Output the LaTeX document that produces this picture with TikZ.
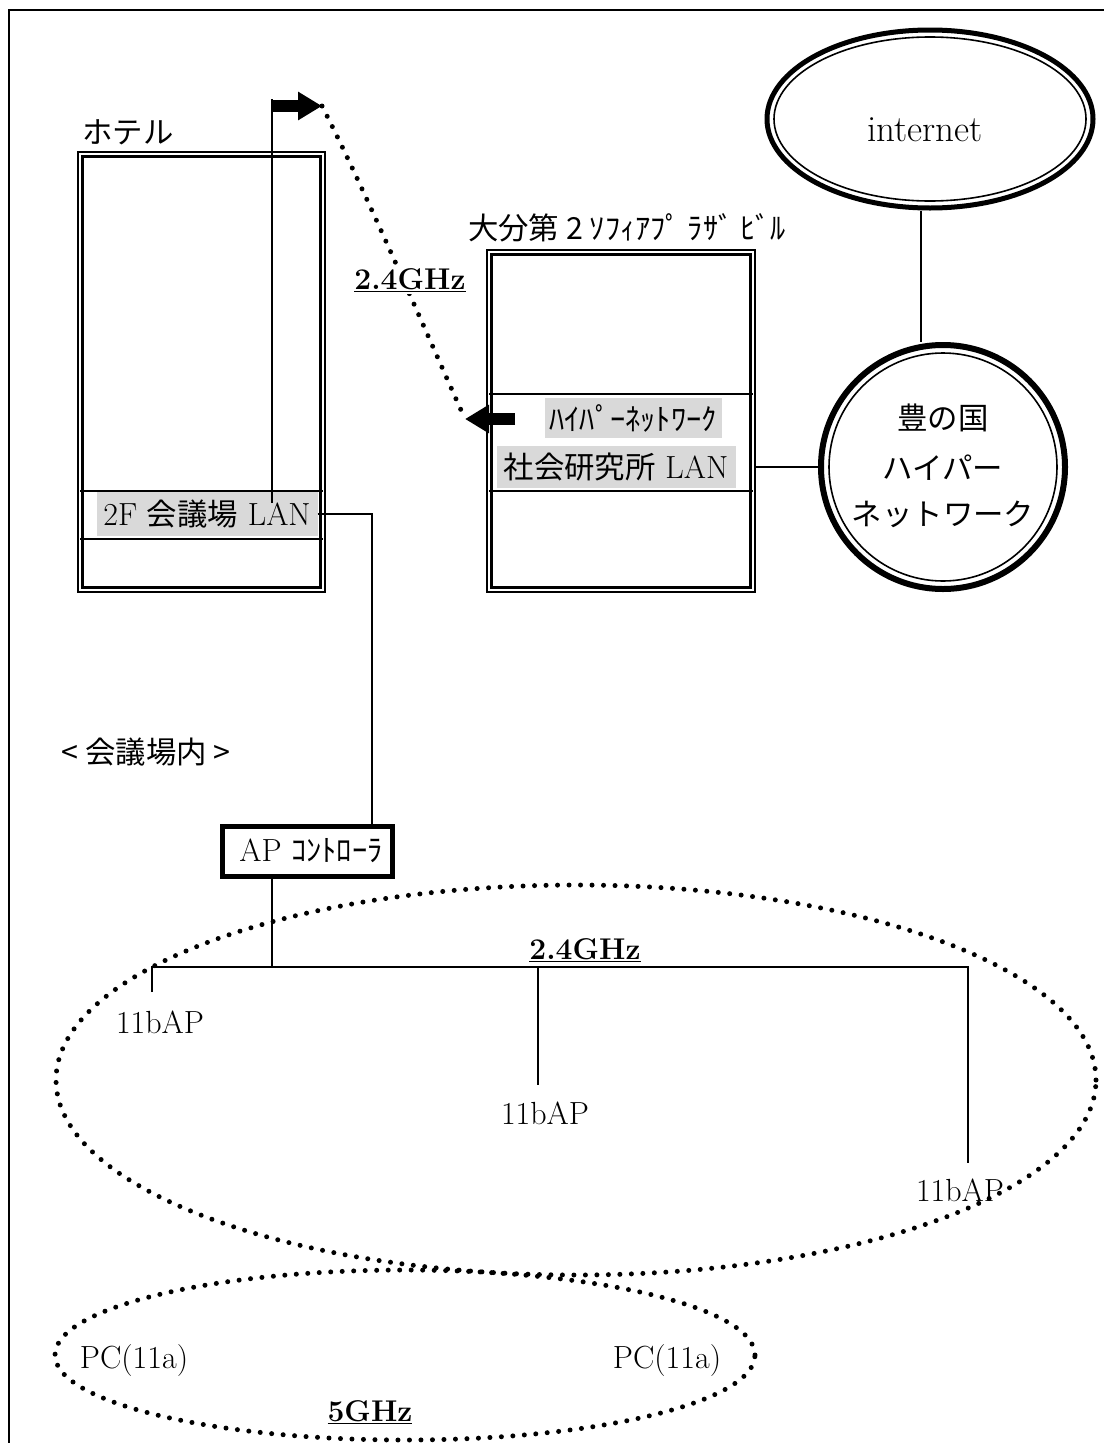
\documentclass[tikz,border=0pt]{standalone}
\usepackage{fontspec}
\newfontfamily\jp[Scale=0.95]{Noto Sans CJK JP}
\usetikzlibrary{arrows.meta,calc,shapes.geometric}
\begin{document}
\begin{tikzpicture}[x=1pt,y=-1pt,
  thinln/.style={line width=1.6pt},
  txt/.style={font=\fontsize{32}{38}\selectfont, inner sep=0pt},
  lbl/.style={font=\fontsize{30}{36}\selectfont\bfseries, inner sep=0pt},
  graybox/.style={fill=black!15, inner sep=0pt, font=\fontsize{32}{38}\selectfont},
  dotline/.style={line width=5pt, line cap=round, dash pattern=on 0pt off 11.5pt},
  blockarrow/.style={line width=12pt, -{Triangle[length=24pt,width=27pt]}},
  bldg/.style={draw, thinln, inner sep=0pt}
]
\useasboundingbox (0,0) rectangle (1104,1443);
\fill[white] (0,0) rectangle (1104,1443);
% frame
\draw[line width=2pt] (9,1443) -- (9,10) -- (1104,10);

% ---------- hotel ----------
\node[txt] (hoteltxt) at (128,132) {\jp ホテル};
\node[bldg, minimum width=247pt, minimum height=440pt] (hotel) at (201.5,372) {};
\draw[line width=3.5pt] ($(hotel.north west)+(5.5,5.5)$) rectangle ($(hotel.south east)+(-5.5,-5.5)$);
\draw[thinln] (80,491) -- (323,491);
\draw[thinln] (80,539) -- (323,539);
\node[graybox, minimum width=221pt, minimum height=44pt] (lan1) at (207,514) {2F {\jp 会議場} LAN};

% vertical line and arrow
\coordinate (vtop) at (272,99);
\coordinate (vbot) at (272,503);
\draw[thinln] (vtop) -- (vbot);
\coordinate (a1s) at (272,106);
\coordinate (a1e) at (322,106);
\draw[blockarrow] (a1s) -- (a1e);

% ---------- second building ----------
\node[txt] (bldgtxt) at (627,228) {\jp 大分第 2 ｿﾌｨｱﾌﾟ ﾗｻﾞ ﾋﾞﾙ};
\node[bldg, minimum width=268pt, minimum height=342pt] (bldg2) at (621,421) {};
\draw[line width=3.5pt] ($(bldg2.north west)+(5.5,5.5)$) rectangle ($(bldg2.south east)+(-5.5,-5.5)$);
\draw[thinln] (489,394) -- (753,394);
\draw[thinln] (489,491) -- (753,491);
\node[graybox, minimum width=177pt, minimum height=40pt] (hyper) at (633,418) {\jp ﾊｲﾊﾟｰﾈｯﾄﾜｰｸ};
\node[graybox, minimum width=239pt, minimum height=42pt] (lan2) at (616,467) {{\jp 社会研究所} LAN};

\coordinate (a2s) at (515,419);
\coordinate (a2e) at (465,419);
\draw[blockarrow] (a2s) -- (a2e);

% wireless link
\draw[dotline] (a1e) .. controls (365,190) and (425,330) .. (a2e);
\node[lbl, fill=white, inner sep=2pt] (wl) at (410,280) {\underline{2.4GHz}};

% ---------- internet / hyper network ----------
\node[ellipse, draw, line width=5pt, minimum width=326pt, minimum height=178pt, inner sep=0pt] (inet) at (930,119) {};
\draw[thinln] (inet.center) ellipse [x radius=156pt, y radius=82pt];
\node[txt, font=\fontsize{37}{42}\selectfont] (inettxt) at (925,130) {internet};

\node[circle, draw, line width=6pt, minimum size=244pt, inner sep=0pt] (circ) at (943,467) {};
\draw[thinln] (circ.center) circle [radius=114pt];
\node[txt] (c1) at (943,418) {\jp 豊の国};
\node[txt] (c2) at (943,468) {\jp ハイパー};
\node[txt] (c3) at (943,514) {\jp ネットワーク};

\coordinate (cx) at (921,0);
\draw[thinln] (inet.south -| cx) -- (circ.north -| cx);
\draw[thinln] (lan2.east -| bldg2.east) -- (circ.west);

% ---------- conference room ----------
\node[txt] (room) at (146,752) {\jp < 会議場内 >};
\node[draw, line width=5pt, minimum width=170pt, minimum height=50pt, inner sep=0pt, font=\fontsize{32}{38}\selectfont] (ap) at (307,851) {\hspace*{8pt}AP {\jp ｺﾝﾄﾛｰﾗ}};
\coordinate (apx) at (372,0);
\draw[thinln] (lan1.east) -| (ap.north -| apx);

\coordinate (bus) at (272,967);
\coordinate (d1) at (152,992);
\coordinate (d2) at (538,1085);
\coordinate (d3) at (968,1163);
\coordinate (d3top) at (968,967);
\coordinate (d2top) at (538,967);
\draw[thinln] (ap.south -| bus) -- (bus);
\draw[thinln] (d1) |- (d3top) -- (d3);
\draw[thinln] (d2top) -- (d2);

\node[lbl] (w24) at (585,950) {\underline{2.4GHz}};
\node[txt] (ap1) at (160,1022) {11bAP};
\node[txt] (ap2) at (545,1113) {11bAP};
\node[txt] (ap3) at (960,1190) {11bAP};

\draw[dotline] (576,1080) ellipse [x radius=520pt, y radius=195pt];
\draw[dotline] (405,1355) ellipse [x radius=350pt, y radius=85pt];

\node[txt] (pc1) at (134,1360) {PC(11a)};
\node[txt] (pc2) at (667,1360) {PC(11a)};
\node[lbl] (w5) at (370,1412) {\underline{5GHz}};
\end{tikzpicture}
\end{document}
